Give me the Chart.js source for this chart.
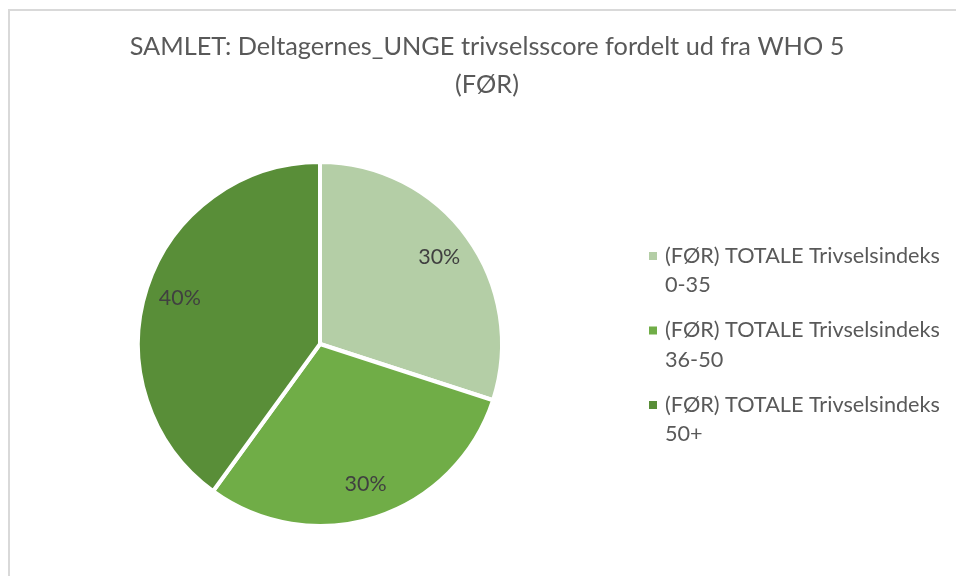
<!DOCTYPE html>
<html>
<head>
<meta charset="utf-8">
<script src="https://cdn.jsdelivr.net/npm/chart.js@4.4.0/dist/chart.umd.min.js"></script>
<style>
html, body { margin: 0; padding: 0; background: #fff; overflow: hidden; }
#wrap { position: relative; width: 956px; height: 576px; }
#frame { position: absolute; left: 8px; top: 9px; width: 1000px; height: 1000px;
         border-left: 2px solid #d9d9d9; border-top: 2px solid #d9d9d9; }
canvas { position: absolute; left: 0; top: 0; }
</style>
</head>
<body>
<div id="wrap">
  <div id="frame"></div>
  <canvas id="pieChart" width="956" height="576"></canvas>
</div>
<script>
// data
const titleLines = ['SAMLET: Deltagernes_UNGE trivselsscore fordelt ud fra WHO 5', '(FØR)'];
const categories = ['(FØR) TOTALE Trivselsindeks 0-35', '(FØR) TOTALE Trivselsindeks 36-50', '(FØR) TOTALE Trivselsindeks 50+'];
const values = [30, 30, 40];
const sliceColors = ['#b4cea6', '#70ad47', '#598e38'];

const FONT = 'Lato, "Open Sans", sans-serif';

// pick a font size so that text gets a given width
function fitFont(ctx, text, width) {
    ctx.font = '20px ' + FONT;
    const w = ctx.measureText(text).width;
    return 20 * width / w;
}

const excelLook = {
    id: 'excelLook',
    afterDatasetsDraw(chart) {
        const ctx = chart.ctx;
        const meta = chart.getDatasetMeta(0);
        const total = values.reduce((a, b) => a + b, 0);
        ctx.save();

        // procent labels
        const labelSize = fitFont(ctx, '30%', 42);
        ctx.font = labelSize + 'px ' + FONT;
        ctx.fillStyle = '#404040';
        ctx.textAlign = 'center';
        ctx.textBaseline = 'middle';
        meta.data.forEach((arc, i) => {
            const p = arc.getProps(['x', 'y', 'startAngle', 'endAngle', 'outerRadius'], true);
            const mid = (p.startAngle + p.endAngle) / 2;
            const r = p.outerRadius * 0.81;
            ctx.fillText(Math.round(values[i] / total * 100) + '%', p.x + Math.cos(mid) * r, p.y + Math.sin(mid) * r);
        });

        // title
        const titleSize = fitFont(ctx, titleLines[0], 715);
        ctx.font = titleSize + 'px ' + FONT;
        ctx.fillStyle = '#595959';
        ctx.fillText(titleLines[0], 487, 47);
        ctx.fillText(titleLines[1], 487, 85);

        // legend
        const legendSize = fitFont(ctx, '(FØR) TOTALE Trivselsindeks', 275);
        ctx.font = legendSize + 'px ' + FONT;
        ctx.textAlign = 'left';
        categories.forEach((label, i) => {
            const cut = label.lastIndexOf(' ');
            const y = 256 + i * 74.5;
            ctx.fillStyle = sliceColors[i];
            ctx.fillRect(649, y - 4, 8, 8);
            ctx.fillStyle = '#595959';
            ctx.fillText(label.slice(0, cut), 665, y);
            ctx.fillText(label.slice(cut + 1), 665, y + 29.5);
        });
        ctx.restore();
    }
};

function createPieChart() {
    const ctx = document.getElementById('pieChart').getContext('2d');
    new Chart(ctx, {
        type: 'pie',
        data: {
            labels: categories,
            datasets: [{
                data: values,
                backgroundColor: sliceColors,
                borderColor: '#ffffff',
                borderWidth: 4
            }]
        },
        options: {
            responsive: false,
            animation: false,
            layout: {
                padding: { left: 136, right: 452, top: 160, bottom: 48 }
            },
            plugins: {
                legend: { display: false },
                title: { display: false },
                tooltip: { enabled: false }
            }
        },
        plugins: [excelLook]
    });
}

document.addEventListener('DOMContentLoaded', function() {
    createPieChart();
});
</script>
</body>
</html>
